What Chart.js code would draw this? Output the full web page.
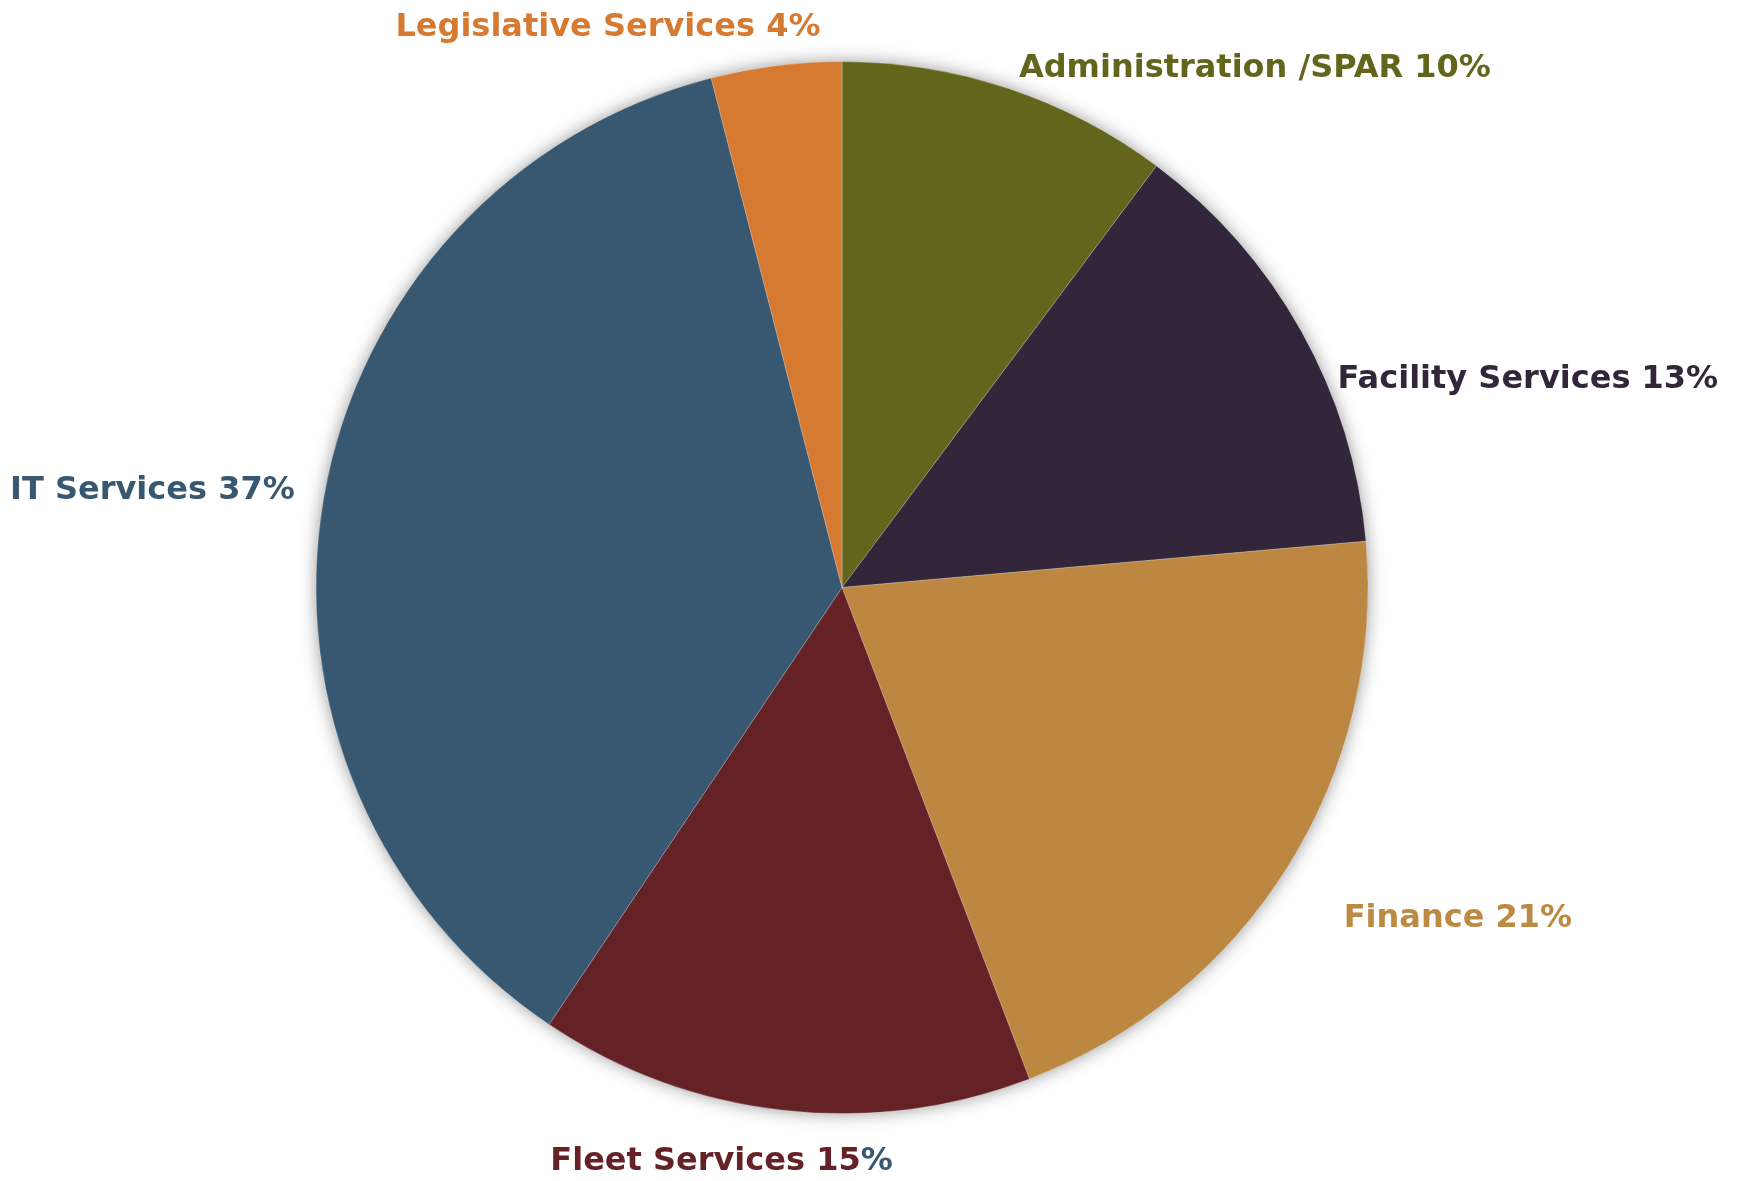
<!DOCTYPE html>
<html>
<head>
<meta charset="utf-8">
<script src="https://cdn.jsdelivr.net/npm/chart.js@4.4.1/dist/chart.umd.min.js"></script>
<style>
  html, body { margin: 0; padding: 0; background: #ffffff; }
  #wrap { width: 1747px; height: 1181px; position: relative; }
</style>
</head>
<body>
<div id="wrap"><canvas id="c" width="1747" height="1181"></canvas></div>
<script>
// ---- Data ----
const categories = ["Administration /SPAR", "Facility Services", "Finance", "Fleet Services", "IT Services", "Legislative Services"];
const shareValues = [10.2, 13.4, 20.6, 15.2, 36.6, 4.0];
const shownPercent = ["10%", "13%", "21%", "15%", "37%", "4%"];

// ---- Styles ----
const sliceColors = ["#64651c", "#33263a", "#bb8741", "#652226", "#385770", "#d77a31"];
const labelColors = ["#64651c", "#33263a", "#bc8a42", "#652226", "#385770", "#d77a31"];
// label anchor (centre x, baseline y) relative to pie centre in units of radius
const labelOffsets = [
  [0.785, -0.970],
  [1.304, -0.380],
  [1.171, 0.646],
  [-0.229, 1.108],
  [-1.311, -0.169],
  [-0.445, -1.048]
];

const shadowPlugin = {
  id: 'pieShadow',
  beforeDatasetsDraw(chart) {
    const arc = chart.getDatasetMeta(0).data[0];
    if (!arc) return;
    const ctx = chart.ctx;
    ctx.save();
    ctx.shadowColor = 'rgba(0,0,0,0.45)';
    ctx.shadowBlur = 18;
    ctx.shadowOffsetX = 0;
    ctx.shadowOffsetY = 0;
    ctx.fillStyle = '#888';
    ctx.beginPath();
    ctx.arc(arc.x, arc.y, arc.outerRadius - 1, 0, Math.PI * 2);
    ctx.fill();
    ctx.restore();
  }
};

const labelPlugin = {
  id: 'sliceLabels',
  afterDatasetsDraw(chart) {
    const meta = chart.getDatasetMeta(0);
    const arc0 = meta.data[0];
    const cx = arc0.x, cy = arc0.y, r = arc0.outerRadius;
    const ctx = chart.ctx;
    ctx.save();
    ctx.font = 'bold 32px "DejaVu Sans", sans-serif';
    ctx.textBaseline = 'alphabetic';
    ctx.textAlign = 'left';
    categories.forEach((name, i) => {
      const text = name + ' ' + shownPercent[i];
      const w = ctx.measureText(text).width;
      const x = cx + labelOffsets[i][0] * r - w / 2;
      const y = cy + labelOffsets[i][1] * r;
      if (i === 3) {
        const main = name + ' ' + shownPercent[i].slice(0, -1);
        ctx.fillStyle = labelColors[i];
        ctx.fillText(main, x, y);
        ctx.fillStyle = labelColors[4];
        ctx.fillText('%', x + ctx.measureText(main).width, y);
      } else {
        ctx.fillStyle = labelColors[i];
        ctx.fillText(text, x, y);
      }
    });
    ctx.restore();
  }
};

new Chart(document.getElementById('c'), {
  type: 'pie',
  data: {
    labels: categories,
    datasets: [{
      data: shareValues,
      backgroundColor: sliceColors,
      borderColor: 'rgba(255,255,255,0.25)',
      borderWidth: 1
    }]
  },
  options: {
    responsive: false,
    animation: false,
    rotation: 0,
    layout: { padding: { top: 61, bottom: 67, left: 0, right: 63 } },
    plugins: {
      legend: { display: false },
      tooltip: { enabled: false },
      title: { display: false }
    }
  },
  plugins: [shadowPlugin, labelPlugin]
});
</script>
</body>
</html>
